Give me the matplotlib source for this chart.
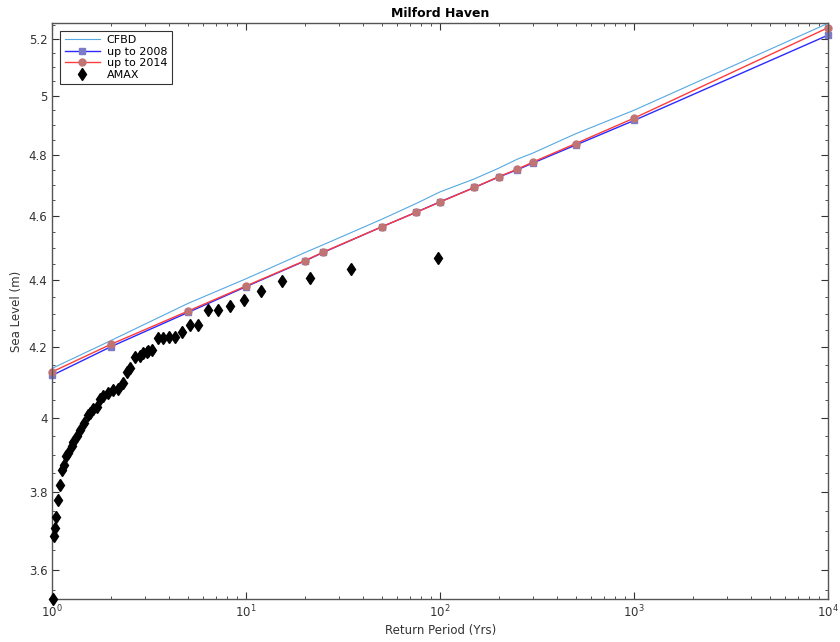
import numpy as np
import matplotlib
matplotlib.use('Agg')
import matplotlib.pyplot as plt
from matplotlib.ticker import FixedLocator, FixedFormatter, NullFormatter, LogLocator
from matplotlib import rc

rc('font', family='DejaVu Sans', size=8)

# =============================================================================
# Data
# =============================================================================
return_period = [1, 2, 5, 10, 20, 25, 50, 75, 100, 150, 200, 250, 300, 500, 1000, 10000]
cfbd = [4.140, 4.220, 4.330, 4.405, 4.485, 4.510, 4.590, 4.640, 4.678, 4.720,
        4.755, 4.785, 4.805, 4.870, 4.950, 5.257]
upto2008 = [4.120, 4.202, 4.303, 4.381, 4.459, 4.486, 4.566, 4.612, 4.646, 4.692,
            4.726, 4.750, 4.772, 4.832, 4.915, 5.214]
upto2014 = [4.130, 4.209, 4.307, 4.383, 4.460, 4.487, 4.566, 4.612, 4.645, 4.692,
            4.727, 4.752, 4.775, 4.837, 4.923, 5.241]

amax_T = [1.01, 1.02, 1.03, 1.05, 1.07, 1.10, 1.12, 1.15, 1.18, 1.21, 1.26, 1.28,
          1.34, 1.39, 1.45, 1.53, 1.56, 1.63, 1.69, 1.76, 1.83, 1.94, 2.06, 2.19,
          2.32, 2.44, 2.52, 2.67, 2.83, 2.95, 3.07, 3.13, 3.26, 3.52, 3.74, 4.01,
          4.28, 4.68, 5.13, 5.66, 6.35, 7.18, 8.25, 9.74, 11.9, 15.2, 21.3, 34.6, 97.2]
amax_level = [3.528, 3.687, 3.707, 3.736, 3.780, 3.819, 3.859, 3.872, 3.895, 3.904,
              3.922, 3.935, 3.949, 3.967, 3.985, 4.008, 4.013, 4.025, 4.031, 4.053,
              4.060, 4.069, 4.077, 4.081, 4.099, 4.130, 4.140, 4.171, 4.175, 4.183,
              4.187, 4.190, 4.194, 4.227, 4.227, 4.232, 4.232, 4.245, 4.267, 4.266,
              4.309, 4.311, 4.322, 4.341, 4.368, 4.399, 4.407, 4.434, 4.468]

ytick_vals = [3.6, 3.8, 4.0, 4.2, 4.4, 4.6, 4.8, 5.0, 5.2]
ytick_labels = ['3.6', '3.8', '4', '4.2', '4.4', '4.6', '4.8', '5', '5.2']
xtick_vals = [1, 10, 100, 1000, 10000]
xtick_labels = [r'$10^0$', r'$10^1$', r'$10^2$', r'$10^3$', r'$10^4$']

# =============================================================================
# Plot
# =============================================================================
fig = plt.figure(figsize=(8.4, 6.42), dpi=100)
ax = fig.add_axes([0.0623, 0.0665, 0.9235, 0.8981])

ax.plot(return_period, cfbd, color='#55a8e2', lw=0.8, label='CFBD', clip_on=False)
ax.plot(return_period, upto2008, color='#2a2aff', lw=1.0, marker='s', ms=4.5,
        mfc='#7b7bc8', mec='#7b7bc8', label='up to 2008', clip_on=False)
ax.plot(return_period, upto2014, color='#ff3b3b', lw=1.0, marker='o', ms=5,
        mfc='#c07474', mec='#c07474', label='up to 2014', clip_on=False)
ax.plot(amax_T, amax_level, 'kd', ms=6.5, ls='none', label='AMAX', clip_on=False, zorder=5)

ax.set_xscale('log')
ax.set_yscale('log')
ax.set_xlim(1, 10000)
ax.set_ylim(3.528, 5.259)

ax.xaxis.set_major_locator(FixedLocator(xtick_vals))
ax.xaxis.set_major_formatter(FixedFormatter(xtick_labels))
ax.xaxis.set_minor_locator(LogLocator(base=10, subs=np.arange(2, 10)))
ax.xaxis.set_minor_formatter(NullFormatter())

ax.yaxis.set_major_locator(FixedLocator(ytick_vals))
ax.yaxis.set_major_formatter(FixedFormatter(ytick_labels))
ax.yaxis.set_minor_locator(FixedLocator(np.arange(3.55, 5.26, 0.05)))
ax.yaxis.set_minor_formatter(NullFormatter())

ax.tick_params(which='both', direction='in', top=True, right=True, colors='#333333',
               labelsize=8.5)
ax.tick_params(which='major', length=5, width=0.8)
ax.tick_params(which='minor', length=2.5, width=0.6)
for s in ax.spines.values():
    s.set_color('#555555')
    s.set_linewidth(1.0)

ax.set_xlabel('Return Period (Yrs)', fontsize=8.5, color='#333333', labelpad=2)
ax.set_ylabel('Sea Level (m)', fontsize=8.5, color='#333333', labelpad=4)
ax.set_title('Milford Haven', fontsize=9, fontweight='bold', pad=4)

leg = ax.legend(loc='upper left', fontsize=8, frameon=True, fancybox=False,
                borderaxespad=0.7, handlelength=3.2, labelspacing=0.15,
                borderpad=0.4, handletextpad=0.6)
leg.get_frame().set_edgecolor('black')
leg.get_frame().set_linewidth(0.8)

plt.savefig('out.png', dpi=100)
